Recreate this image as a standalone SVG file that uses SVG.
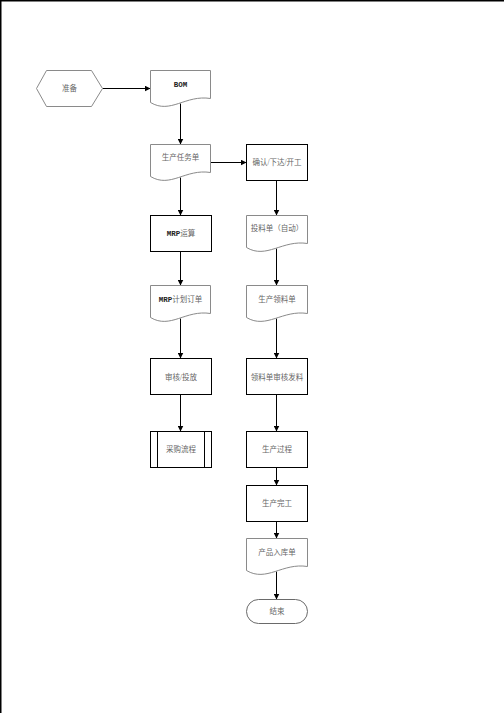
<svg xmlns="http://www.w3.org/2000/svg" width="504" height="713" viewBox="0 0 504 713">
<style>
.bg{fill:#fff}
.doc{fill:#fff;stroke:#8a8a8a;stroke-width:1}
.box{fill:#fff;stroke:#000;stroke-width:1}
.soft{fill:#fff;stroke:#6a6a6a;stroke-width:1}
.t{font-family:"Liberation Serif","Noto Sans CJK SC",serif;font-size:7.5px;fill:#666;text-anchor:middle;dominant-baseline:central}
.b{font-family:"Liberation Mono","Noto Sans CJK SC",monospace;font-weight:bold;fill:#222}
.c{fill:none;stroke:#000;stroke-width:1;marker-end:url(#ah)}
.page{stroke:#000;stroke-width:1.5;fill:none}
</style>
<defs>
<marker id="ah" markerUnits="userSpaceOnUse" markerWidth="6" markerHeight="6" refX="6" refY="3" orient="auto">
<path d="M0,0 L6,3 L0,6 z" fill="#000"/>
</marker>
</defs>
<rect class="bg" x="0" y="0" width="504" height="713"/>
<path class="page" d="M0.75,713 V0.75 H504"/>

<g transform="translate(0.5 0.5)">
<g id="connectors">
<line class="c" x1="102" y1="88" x2="150" y2="88"/>
<line class="c" x1="180" y1="103" x2="180" y2="144"/>
<line class="c" x1="210" y1="162" x2="246" y2="162"/>
<line class="c" x1="180" y1="177" x2="180" y2="215"/>
<line class="c" x1="276" y1="180" x2="276" y2="215"/>
<line class="c" x1="180" y1="251" x2="180" y2="285"/>
<line class="c" x1="276" y1="248" x2="276" y2="285"/>
<line class="c" x1="180" y1="318" x2="180" y2="358"/>
<line class="c" x1="276" y1="318" x2="276" y2="358"/>
<line class="c" x1="180" y1="394" x2="180" y2="431"/>
<line class="c" x1="276" y1="394" x2="276" y2="431"/>
<line class="c" x1="276" y1="467" x2="276" y2="485"/>
<line class="c" x1="276" y1="521" x2="276" y2="538"/>
<line class="c" x1="276" y1="571" x2="276" y2="599"/>
</g>

<g id="n-zhunbei">
<polygon class="doc" points="36,88 46,70 91,70 102,88 91,106 46,106"/>
<text class="t" x="69" y="88">准备</text>
</g>

<g id="n-bom">
<path class="doc" d="M150,70 H210 V98 C185,94 170,114 150,102 Z"/>
<text class="t b" x="180" y="84" font-size="7">BOM</text>
</g>

<g id="n-scrwd">
<path class="doc" d="M150,144 H210 V172 C185,168 170,188 150,176 Z"/>
<text class="t" x="180" y="157">生产任务单</text>
</g>

<g id="n-qr">
<rect class="box" x="246" y="144" width="61" height="36"/>
<text class="t" x="276.5" y="162">确认/下达/开工</text>
</g>

<g id="n-mrp">
<rect class="box" x="150" y="215" width="61" height="36"/>
<text class="t" x="180.5" y="233"><tspan class="b">MRP</tspan>运算</text>
</g>

<g id="n-tld">
<path class="doc" d="M246,215 H307 V243 C282,239 266,259 246,247 Z"/>
<text class="t" x="276.5" y="228">投料单（自动）</text>
</g>

<g id="n-mrpjh">
<path class="doc" d="M150,285 H210 V313 C185,309 170,329 150,317 Z"/>
<text class="t" x="180" y="299"><tspan class="b">MRP</tspan>计划订单</text>
</g>

<g id="n-scll">
<path class="doc" d="M246,285 H307 V313 C282,309 266,329 246,317 Z"/>
<text class="t" x="276.5" y="299">生产领料单</text>
</g>

<g id="n-shtf">
<rect class="box" x="150" y="358" width="61" height="36"/>
<text class="t" x="180.5" y="377">审核/投放</text>
</g>

<g id="n-llsh">
<rect class="box" x="246" y="358" width="61" height="36"/>
<text class="t" x="276.5" y="377">领料单审核发料</text>
</g>

<g id="n-cglc">
<rect class="box" x="150" y="431" width="61" height="36"/>
<line class="box" x1="157" y1="431" x2="157" y2="467"/>
<line class="box" x1="204" y1="431" x2="204" y2="467"/>
<text class="t" x="180.5" y="449">采购流程</text>
</g>

<g id="n-scgc">
<rect class="box" x="246" y="431" width="61" height="36"/>
<text class="t" x="276.5" y="449">生产过程</text>
</g>

<g id="n-scwg">
<rect class="box" x="246" y="485" width="61" height="36"/>
<text class="t" x="276.5" y="503">生产完工</text>
</g>

<g id="n-cprk">
<path class="doc" d="M246,538 H307 V566 C282,562 266,582 246,570 Z"/>
<text class="t" x="276.5" y="552">产品入库单</text>
</g>

<g id="n-end">
<rect class="soft" x="246" y="599" width="61" height="24" rx="12" ry="12"/>
<text class="t" x="276.5" y="611">结束</text>
</g>
</g>
</svg>
